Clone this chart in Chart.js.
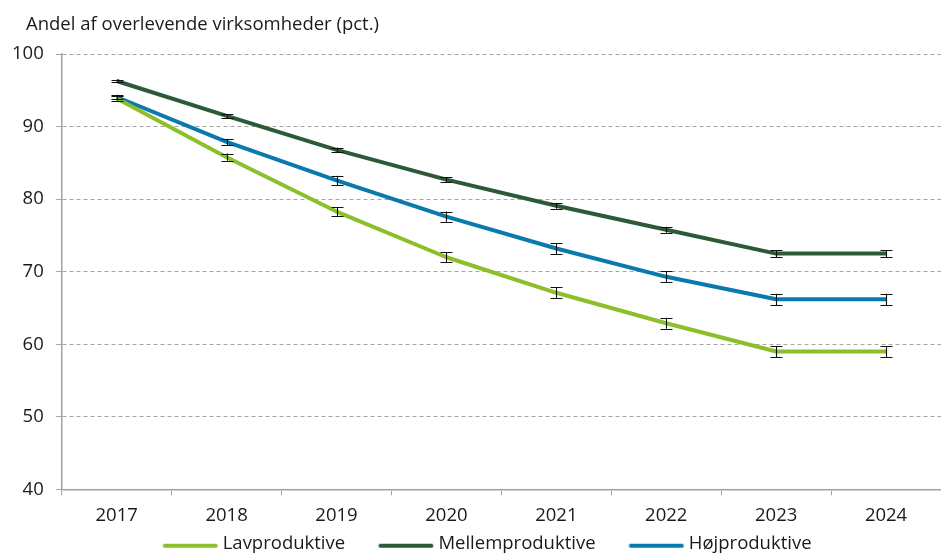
<!DOCTYPE html>
<html>
<head>
<meta charset="utf-8">
<script src="https://cdn.jsdelivr.net/npm/chart.js@4.4.1/dist/chart.umd.min.js"></script>
<style>
html,body{margin:0;padding:0;background:#fff;overflow:hidden}
#wrap{width:941px;height:554px;position:relative}
</style>
</head>
<body>
<div id="wrap"><canvas id="c" width="941" height="554"></canvas></div>
<script>
const categories = ['2017','2018','2019','2020','2021','2022','2023','2024'];
const seriesNames = ['Lavproduktive','Mellemproduktive','Højproduktive'];
const lavValues    = [93.9, 85.8, 78.3, 72.0, 67.1, 62.9, 59.0, 59.0];
const mellemValues = [96.3, 91.5, 86.8, 82.7, 79.1, 75.8, 72.5, 72.5];
const hojValues    = [94.1, 87.9, 82.6, 77.6, 73.2, 69.3, 66.2, 66.2];
const lavErrors    = [0.3, 0.5, 0.6, 0.72, 0.75, 0.75, 0.75, 0.75];
const mellemErrors = [0.2, 0.25, 0.32, 0.38, 0.4, 0.42, 0.45, 0.45];
const hojErrors    = [0.3, 0.45, 0.65, 0.7, 0.75, 0.75, 0.78, 0.78];
const yTicks = [40, 50, 60, 70, 80, 90, 100];
const titleText = 'Andel af overlevende virksomheder (pct.)';

const colors = ['#8cbf2b', '#2c5a36', '#0a79ac'];
const errorArrays = [lavErrors, mellemErrors, hojErrors];
const valueArrays = [lavValues, mellemValues, hojValues];

Chart.defaults.font.family = '"Open Sans", "Noto Sans", sans-serif';
Chart.defaults.color = '#1a1a1a';

function legendImg(color) {
  const c = document.createElement('canvas');
  c.width = 97; c.height = 12;
  const g = c.getContext('2d');
  g.strokeStyle = color; g.lineWidth = 4; g.lineCap = 'round';
  g.beginPath(); g.moveTo(42.25, 8); g.lineTo(93.25, 8); g.stroke();
  return c;
}
const legendImgs = colors.map(legendImg);

const errorBarPlugin = {
  id: 'errorBars',
  afterLayout(chart) {
    if (chart.titleBlock) { chart.titleBlock.left += 26; chart.titleBlock.right += 26; }
    if (chart.legend) { chart.legend.left -= 5; chart.legend.right -= 5; }
  },
  afterDatasetsDraw(chart) {
    const ctx = chart.ctx, xs = chart.scales.x, ys = chart.scales.y;
    ctx.save();
    ctx.strokeStyle = '#111';
    ctx.lineWidth = 1.1;
    chart.data.datasets.forEach((ds, di) => {
      const errs = errorArrays[di];
      ds.data.forEach((v, i) => {
        const px = Math.round(xs.getPixelForValue(i)) + 0.5;
        const t = ys.getPixelForValue(v + errs[i]);
        const b = ys.getPixelForValue(v - errs[i]);
        ctx.beginPath();
        ctx.moveTo(px, t); ctx.lineTo(px, b);
        ctx.moveTo(px - 6, Math.round(t) + 0.5); ctx.lineTo(px + 6, Math.round(t) + 0.5);
        ctx.moveTo(px - 6, Math.round(b) + 0.5); ctx.lineTo(px + 6, Math.round(b) + 0.5);
        ctx.stroke();
      });
    });
    ctx.restore();
  }
};

new Chart(document.getElementById('c'), {
  type: 'line',
  data: {
    labels: categories,
    datasets: seriesNames.map((name, i) => ({
      label: name,
      data: valueArrays[i],
      borderColor: colors[i],
      backgroundColor: colors[i],
      borderWidth: 4,
      pointRadius: 0,
      pointHoverRadius: 0,
      tension: 0,
      borderJoinStyle: 'round'
    }))
  },
  options: {
    responsive: false,
    animation: false,
    layout: { padding: { left: 0, right: -9, top: 0, bottom: -9 } },
    plugins: {
      tooltip: { enabled: false },
      title: {
        display: true,
        text: titleText,
        align: 'start',
        color: '#1a1a1a',
        font: { size: 18.5, weight: 'normal' },
        padding: { top: 14, bottom: 18 }
      },
      legend: {
        position: 'bottom',
        labels: {
          usePointStyle: true,
          pointStyleWidth: 85,
          boxHeight: 6,
          padding: -1,
          color: '#1a1a1a',
          font: { size: 18.5 },
          generateLabels(chart) {
            const items = Chart.defaults.plugins.legend.labels.generateLabels(chart);
            items.forEach((it, i) => { it.pointStyle = legendImgs[i]; });
            return items;
          }
        }
      }
    },
    scales: {
      x: {
        offset: true,
        grid: { offset: true, drawOnChartArea: false, drawTicks: true, tickLength: 6, color: '#a0a0a0', lineWidth: 1 },
        border: { display: true, color: '#a0a0a0', width: 1.5 },
        ticks: { padding: 9, color: '#1a1a1a', font: { size: 18.5 }, maxRotation: 0 }
      },
      y: {
        min: 40, max: 100,
        afterBuildTicks(s) { s.ticks = yTicks.map(v => ({ value: v })); },
        grid: { color: '#a6a6a6', lineWidth: 1, tickLength: 6, drawTicks: true },
        border: { display: true, color: '#a0a0a0', width: 1.5, dash: [4, 3] },
        ticks: { padding: 12, color: '#1a1a1a', font: { size: 18.5 } }
      }
    }
  },
  plugins: [errorBarPlugin]
});
</script>
</body>
</html>
